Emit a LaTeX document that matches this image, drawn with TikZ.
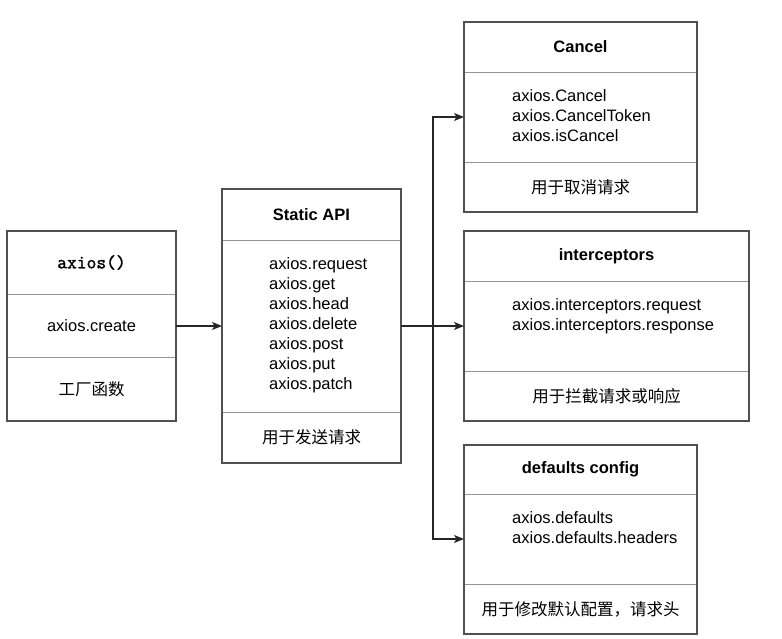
\documentclass[tikz,border=0pt]{standalone}
\usepackage{fontspec}
\setmainfont{Liberation Sans}
\newfontfamily\cjk{Noto Sans CJK SC}
\newfontfamily\codefont[AutoFakeBold=1.5]{Latin Modern Mono}
\usetikzlibrary{positioning,arrows.meta}
\definecolor{frame}{HTML}{505050}
\definecolor{divline}{HTML}{959595}
\newcommand\txtsize{\fontsize{16.5}{20}\selectfont}
\tikzset{
  sec/.style={draw=divline, line width=1pt, anchor=north west, inner sep=0pt,
    outer sep=0pt, minimum width=#1, font=\txtsize},
  head/.style={font=\txtsize\bfseries},
  list/.style={anchor=north west, align=left, inner sep=0pt, font=\txtsize},
  box/.style={draw=frame, line width=1.2pt},
  conn/.style={draw=black!85, line width=1.3pt, -{Stealth[length=10pt,width=8pt,inset=2.5pt]}}
}

\begin{document}
\begin{tikzpicture}[x=1pt,y=-1pt]
\useasboundingbox (0,0) rectangle (782,638);

% axios()
\node[sec=169, minimum height=63] (axiosHead) at (7,231) {\codefont\fontsize{19}{20}\selectfont\bfseries axios()};
\node[sec=169, minimum height=63, below=0pt of axiosHead] (axiosCreate) {axios.create};
\node[sec=169, minimum height=64, below=0pt of axiosCreate] (axiosFoot) {\cjk 工厂函数};
\draw[box] (axiosHead.north west) rectangle (axiosFoot.south east);

% Static API
\node[sec=179, minimum height=51, head] (apiHead) at (222,189) {Static API};
\node[sec=179, minimum height=172, below=0pt of apiHead] (apiBody) {};
\node[sec=179, minimum height=51, below=0pt of apiBody] (apiFoot) {\cjk 用于发送请求};
\node[list, below right=17pt and 47pt of apiBody.north west] (apiList)
  {axios.request\\axios.get\\axios.head\\axios.delete\\axios.post\\axios.put\\axios.patch};
\draw[box] (apiHead.north west) rectangle (apiFoot.south east);

% Cancel
\node[sec=233, minimum height=50, head] (cancelHead) at (464,22) {Cancel};
\node[sec=233, minimum height=90, below=0pt of cancelHead] (cancelBody) {};
\node[sec=233, minimum height=50, below=0pt of cancelBody] (cancelFoot) {\cjk 用于取消请求};
\node[list, below right=17pt and 48pt of cancelBody.north west] (cancelList)
  {axios.Cancel\\axios.CancelToken\\axios.isCancel};
\draw[box] (cancelHead.north west) rectangle (cancelFoot.south east);

% interceptors
\node[sec=285, minimum height=50, head] (icpHead) at (464,231) {interceptors};
\node[sec=285, minimum height=90, below=0pt of icpHead] (icpBody) {};
\node[sec=285, minimum height=50, below=0pt of icpBody] (icpFoot) {\cjk 用于拦截请求或响应};
\node[list, below right=17pt and 48pt of icpBody.north west] (icpList)
  {axios.interceptors.request\\axios.interceptors.response};
\draw[box] (icpHead.north west) rectangle (icpFoot.south east);

% defaults config
\node[sec=233, minimum height=49, head] (defHead) at (464,445) {defaults config};
\node[sec=233, minimum height=90, below=0pt of defHead] (defBody) {};
\node[sec=233, minimum height=50, below=0pt of defBody] (defFoot) {\cjk 用于修改默认配置，请求头};
\node[list, below right=17pt and 48pt of defBody.north west] (defList)
  {axios.defaults\\axios.defaults.headers};
\draw[box] (defHead.north west) rectangle (defFoot.south east);

% connectors
\draw[conn] (axiosCreate.east |- apiBody.west) -- (apiBody.west);
\coordinate[right=32pt of apiBody.east] (fork);
\draw[conn] (apiBody.east) -- (icpBody.west);
\draw[conn] (fork) |- (cancelBody.west);
\draw[conn] (fork) |- (defBody.west);

\end{tikzpicture}
\end{document}
